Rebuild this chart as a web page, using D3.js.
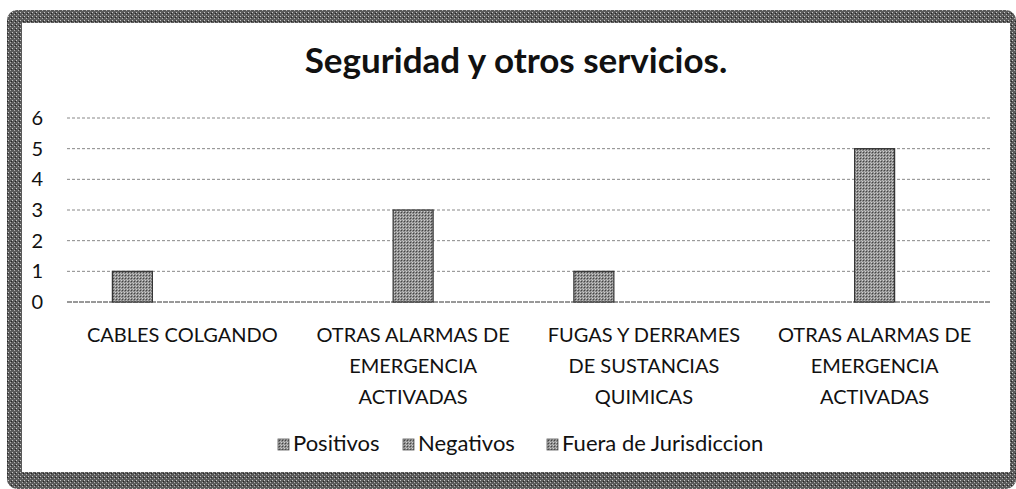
<!DOCTYPE html>
<html>
<head>
<meta charset="utf-8">
<script src="https://cdn.jsdelivr.net/npm/d3@7"></script>
<style>
  body { margin: 0; background: #fff; }
  text { font-family: Lato, "Open Sans", sans-serif; fill: #111; }
</style>
</head>
<body>
<svg id="chart" width="1016" height="489"></svg>
<script>
// Chart data
var categories = ["CABLES COLGANDO", "OTRAS ALARMAS DE EMERGENCIA ACTIVADAS", "FUGAS Y DERRAMES DE SUSTANCIAS QUIMICAS", "OTRAS ALARMAS DE EMERGENCIA ACTIVADAS "];
var categoryLines = [["CABLES COLGANDO"], ["OTRAS ALARMAS DE", "EMERGENCIA", "ACTIVADAS"], ["FUGAS Y DERRAMES", "DE SUSTANCIAS", "QUIMICAS"], ["OTRAS ALARMAS DE", "EMERGENCIA", "ACTIVADAS"]];
var seriesNames = ["Positivos", "Negativos", "Fuera de Jurisdiccion"];
var positivos = [1, 0, 1, 0];
var negativos = [0, 3, 0, 5];
var fueraJurisdiccion = [0, 0, 0, 0];
var yTicks = [0, 1, 2, 3, 4, 5, 6];

var svg = d3.select("#chart");

// Halftone-like patterns to mimic the scan
var defs = svg.append("defs");
var frameP = defs.append("pattern").attr("id", "frameTex")
    .attr("width", 4).attr("height", 4).attr("patternUnits", "userSpaceOnUse");
frameP.append("rect").attr("width", 4).attr("height", 4).attr("fill", "#5a5a5a");
frameP.append("rect").attr("x", 0).attr("y", 0).attr("width", 1).attr("height", 1).attr("fill", "#c8c8c8");
frameP.append("rect").attr("x", 2).attr("y", 2).attr("width", 1).attr("height", 1).attr("fill", "#b0b0b0");
frameP.append("rect").attr("x", 3).attr("y", 1).attr("width", 1).attr("height", 1).attr("fill", "#222");

var barP = defs.append("pattern").attr("id", "barTex")
    .attr("width", 3).attr("height", 3).attr("patternUnits", "userSpaceOnUse");
barP.append("rect").attr("width", 3).attr("height", 3).attr("fill", "#8c8c8c");
barP.append("rect").attr("x", 0).attr("y", 0).attr("width", 1).attr("height", 1).attr("fill", "#d0d0d0");
barP.append("rect").attr("x", 1).attr("y", 1).attr("width", 1).attr("height", 1).attr("fill", "#444");
barP.append("rect").attr("x", 2).attr("y", 2).attr("width", 1).attr("height", 1).attr("fill", "#bbb");

// Frame
svg.append("rect").attr("x", 7).attr("y", 10).attr("width", 1009).attr("height", 479)
    .attr("rx", 10).attr("fill", "url(#frameTex)");
svg.append("rect").attr("x", 22).attr("y", 23).attr("width", 988).attr("height", 449)
    .attr("fill", "#fff");

// Title
svg.append("text")
    .attr("x", 516).attr("y", 73)
    .attr("text-anchor", "middle")
    .style("font-size", "35px").style("font-weight", "bold")
    .text("Seguridad y otros servicios.");

var margin = {top: 118, left: 67, right: 26, bottom: 187};
var width = 1016 - margin.left - margin.right;
var height = 489 - margin.top - margin.bottom;

var g = svg.append("g").attr("transform", "translate(" + [margin.left, margin.top] + ")");

var x0 = d3.scaleBand().domain(categories).range([0, width]);
var x1 = d3.scaleBand().domain(seriesNames).range([0, 140]).paddingInner(0.2);
var y = d3.scaleLinear().domain([0, 6]).range([height, 0]);

// Gridlines
g.append("g").selectAll("line").data(yTicks).enter().append("line")
    .attr("x1", 0).attr("x2", width)
    .attr("y1", function(d) { return y(d); })
    .attr("y2", function(d) { return y(d); })
    .attr("stroke", function(d) { return d == 0 ? "#333" : "#888"; })
    .attr("stroke-width", 1)
    .attr("stroke-dasharray", function(d) { return d == 0 ? "5,1" : "3,2"; });

// Y axis labels
var yAxisG = g.append("g").call(d3.axisLeft(y).tickValues(yTicks).tickFormat(d3.format("d")).tickSize(0).tickPadding(24));
yAxisG.select(".domain").remove();
yAxisG.selectAll("text").style("font-size", "20px").style("font-family", "Lato, sans-serif").attr("fill", "#111");

// Bars
var seriesData = [positivos, negativos, fueraJurisdiccion];
var barData = [];
categories.forEach(function(c, i) {
    seriesNames.forEach(function(s, j) {
        barData.push({cat: c, series: s, value: seriesData[j][i]});
    });
});

g.selectAll(".bar").data(barData.filter(function(d) { return d.value > 0; }))
    .enter().append("rect")
    .attr("class", "bar")
    .attr("x", function(d) { return x0(d.cat) + x0.bandwidth() / 2 - 70 + x1(d.series); })
    .attr("width", x1.bandwidth())
    .attr("y", function(d) { return y(d.value); })
    .attr("height", function(d) { return y(0) - y(d.value); })
    .attr("fill", "url(#barTex)")
    .attr("stroke", "#333").attr("stroke-width", 1.2);

// Category labels
var catG = g.append("g").selectAll("text").data(categories).enter().append("text")
    .attr("text-anchor", "middle")
    .attr("transform", function(d) { return "translate(" + [x0(d) + x0.bandwidth() / 2, height + 40] + ")"; })
    .style("font-size", "20px");
catG.each(function(d, i) {
    var t = d3.select(this);
    categoryLines[i].forEach(function(line, k) {
        t.append("tspan").attr("x", 0).attr("dy", k == 0 ? 0 : 31).text(line);
    });
});

// Legend
var legendX = [278, 403, 547];
var legend = svg.append("g").selectAll("g").data(seriesNames).enter().append("g")
    .attr("transform", function(d, i) { return "translate(" + [legendX[i], 451] + ")"; });
legend.append("rect").attr("x", 0).attr("y", -12).attr("width", 11).attr("height", 11)
    .attr("fill", "url(#barTex)").attr("stroke", "#555").attr("stroke-width", 0.8);
legend.append("text").attr("x", 15).attr("y", 0).style("font-size", "22px").text(function(d) { return d; });
</script>
</body>
</html>
